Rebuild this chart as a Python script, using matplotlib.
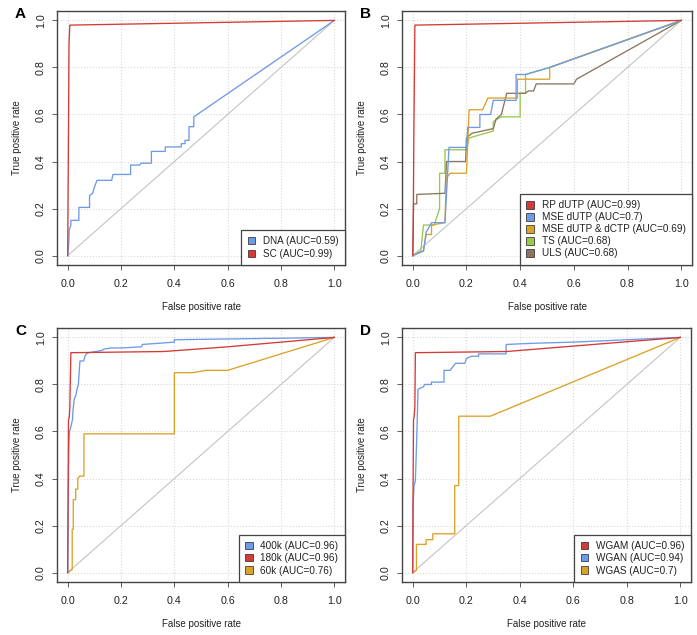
import matplotlib.pyplot as plt
from matplotlib.patches import Patch

plt.rcParams['font.family'] = ['Liberation Sans', 'DejaVu Sans']

RED = '#d43a36'
BLUE = '#6d9be6'
ORANGE = '#dba228'
GREEN = '#98c84c'
BROWN = '#8c7560'

# Panel A
dna_x = [0, 0.004, 0.006, 0.012, 0.012, 0.042, 0.042, 0.082, 0.082, 0.094, 0.1, 0.11, 0.165,
         0.17, 0.236, 0.236, 0.27, 0.275, 0.314, 0.314, 0.366, 0.366, 0.426, 0.426, 0.44, 0.44,
         0.455, 0.455, 0.473, 0.473, 1.0]
dna_y = [0, 0.05, 0.11, 0.13, 0.15, 0.15, 0.205, 0.205, 0.255, 0.265, 0.29, 0.32, 0.32,
         0.345, 0.345, 0.385, 0.385, 0.393, 0.393, 0.443, 0.443, 0.462, 0.462, 0.476, 0.476, 0.49,
         0.49, 0.548, 0.548, 0.59, 1.0]
sc_x = [0, 0.003, 0.005, 0.008, 1.0]
sc_y = [0, 0.52, 0.9, 0.98, 1.0]

# Panel B
rp_x = [0, 0.002, 0.004, 0.008, 1.0]
rp_y = [0, 0.13, 0.5, 0.98, 1.0]
mse_x = [0, 0.04, 0.05, 0.06, 0.07, 0.12, 0.13, 0.135, 0.2, 0.205, 0.25, 0.25, 0.29, 0.3,
         0.385, 0.385, 0.42, 0.51, 1.0]
mse_y = [0, 0.02, 0.1, 0.12, 0.14, 0.14, 0.35, 0.46, 0.46, 0.545, 0.545, 0.6, 0.6, 0.66,
         0.66, 0.77, 0.77, 0.8, 1.0]
msec_x = [0, 0.04, 0.05, 0.07, 0.07, 0.12, 0.125, 0.14, 0.2, 0.21, 0.26, 0.28, 0.39, 0.39,
          0.51, 0.51, 1.0]
msec_y = [0, 0.02, 0.09, 0.09, 0.13, 0.14, 0.33, 0.35, 0.35, 0.62, 0.62, 0.67, 0.67, 0.75,
          0.75, 0.8, 1.0]
ts_x = [0, 0.03, 0.04, 0.08, 0.1, 0.1, 0.12, 0.12, 0.2, 0.21, 0.24, 0.3, 0.3, 0.33, 0.4,
        0.4, 0.42, 0.42, 0.51, 1.0]
ts_y = [0, 0.02, 0.13, 0.13, 0.2, 0.35, 0.35, 0.45, 0.45, 0.5, 0.51, 0.53, 0.57, 0.59, 0.59,
        0.69, 0.69, 0.77, 0.8, 1.0]
uls_x = [0, 0.003, 0.015, 0.015, 0.12, 0.126, 0.197, 0.2, 0.22, 0.3, 0.31, 0.33, 0.35, 0.42,
         0.43, 0.45, 0.46, 0.6, 0.61, 1.0]
uls_y = [0, 0.22, 0.22, 0.26, 0.265, 0.4, 0.4, 0.5, 0.52, 0.54, 0.58, 0.6, 0.69, 0.69,
         0.7, 0.7, 0.73, 0.73, 0.75, 1.0]

# Panel C
k400_x = [0, 0.004, 0.005, 0.007, 0.012, 0.018, 0.02, 0.025, 0.03, 0.035, 0.04, 0.046, 0.06,
          0.065, 0.07, 0.079, 0.13, 0.135, 0.16, 0.2, 0.277, 0.28, 0.4, 0.4, 0.7, 1.0]
k400_y = [0, 0.5, 0.55, 0.6, 0.62, 0.65, 0.69, 0.74, 0.75, 0.78, 0.8, 0.9, 0.9,
          0.92, 0.93, 0.935, 0.945, 0.95, 0.955, 0.955, 0.96, 0.97, 0.98, 0.99, 0.995, 1.0]
k180_x = [0, 0.003, 0.006, 0.008, 0.012, 0.36, 0.6, 1.0]
k180_y = [0, 0.65, 0.66, 0.7, 0.935, 0.94, 0.96, 1.0]
k60_x = [0, 0.017, 0.017, 0.021, 0.021, 0.03, 0.03, 0.038, 0.038, 0.045, 0.061, 0.061, 0.4,
         0.4, 0.47, 0.52, 0.6, 1.0]
k60_y = [0, 0.013, 0.184, 0.184, 0.31, 0.31, 0.355, 0.355, 0.4, 0.41, 0.41, 0.59, 0.59,
         0.85, 0.85, 0.86, 0.86, 1.0]

# Panel D
wgam_x = [0, 0.001, 0.003, 0.005, 0.008, 0.01, 0.35, 1.0]
wgam_y = [0, 0.3, 0.65, 0.66, 0.7, 0.935, 0.94, 1.0]
wgan_x = [0, 0.002, 0.005, 0.01, 0.015, 0.02, 0.04, 0.045, 0.07, 0.07, 0.117, 0.117, 0.14,
          0.16, 0.195, 0.2, 0.22, 0.246, 0.246, 0.349, 0.349, 0.45, 0.6, 1.0]
wgan_y = [0, 0.3, 0.37, 0.39, 0.57, 0.78, 0.79, 0.8, 0.8, 0.81, 0.81, 0.86, 0.86,
          0.89, 0.89, 0.91, 0.92, 0.92, 0.93, 0.93, 0.97, 0.975, 0.98, 1.0]
wgas_x = [0, 0.014, 0.014, 0.05, 0.05, 0.075, 0.075, 0.157, 0.157, 0.172, 0.172, 0.29, 1.0]
wgas_y = [0, 0.01, 0.12, 0.12, 0.14, 0.14, 0.165, 0.165, 0.37, 0.37, 0.665, 0.665, 1.0]

panels = [
    ('A', [57, 11, 288, 254], [(dna_x, dna_y, BLUE), (sc_x, sc_y, RED)],
     [('DNA (AUC=0.59)', BLUE), ('SC (AUC=0.99)', RED)], 7.1, 0.25),
    ('B', [402, 11, 290, 254],
     [(ts_x, ts_y, GREEN), (uls_x, uls_y, BROWN), (msec_x, msec_y, ORANGE),
      (mse_x, mse_y, BLUE), (rp_x, rp_y, RED)],
     [('RP dUTP (AUC=0.99)', RED), ('MSE dUTP (AUC=0.7)', BLUE),
      ('MSE dUTP & dCTP (AUC=0.69)', ORANGE), ('TS (AUC=0.68)', GREEN),
      ('ULS (AUC=0.68)', BROWN)], 7.2, 0.2),
    ('C', [57, 328, 288, 254],
     [(k60_x, k60_y, ORANGE), (k400_x, k400_y, BLUE), (k180_x, k180_y, RED)],
     [('400k (AUC=0.96)', BLUE), ('180k (AUC=0.96)', RED), ('60k (AUC=0.76)', ORANGE)],
     7.2, 0.22),
    ('D', [402, 328, 289, 254],
     [(wgas_x, wgas_y, ORANGE), (wgan_x, wgan_y, BLUE), (wgam_x, wgam_y, RED)],
     [('WGAM (AUC=0.96)', RED), ('WGAN (AUC=0.94)', BLUE), ('WGAS (AUC=0.7)', ORANGE)],
     7.2, 0.22),
]

W, H = 697, 635
fig = plt.figure(figsize=(W / 100, H / 100), dpi=100)

for letter, (px, py, pw, ph), curves, leg, lfs, lsp in panels:
    ax = fig.add_axes([px / W, 1 - (py + ph) / H, pw / W, ph / H])
    ax.set_xlim(-0.04, 1.04)
    ax.set_ylim(-0.04, 1.04)
    ticks = [0, 0.2, 0.4, 0.6, 0.8, 1.0]
    ax.set_xticks(ticks)
    ax.set_yticks(ticks)
    ax.set_xticklabels(['%.1f' % t for t in ticks])
    ax.set_yticklabels(['%.1f' % t for t in ticks])
    ax.grid(True, color='#d8d8d8', linestyle=':', linewidth=0.8)
    ax.set_axisbelow(True)
    ax.plot([0, 1], [0, 1], color='#c4c4c4', linewidth=0.8)
    for cx, cy, col in curves:
        ax.plot(cx, cy, color=col, linewidth=0.95)

    for s in ax.spines.values():
        s.set_color('#444444')
        s.set_linewidth(1.0)
    ax.tick_params(direction='out', length=3.6, width=0.6, color='#444444',
                   labelsize=7.7, labelcolor='#222222')
    ax.tick_params(axis='x', pad=6.5)
    ax.tick_params(axis='y', pad=4.5, labelrotation=90)
    for lab in ax.get_yticklabels():
        lab.set_va('center')
    ax.set_xlabel('False positive rate', fontsize=7, labelpad=9.5, color='#222222')
    ax.set_ylabel('True positive rate', fontsize=7, labelpad=10, color='#222222')

    handles = [Patch(facecolor=c, edgecolor='#222222', linewidth=0.5, label=t) for t, c in leg]
    lg = ax.legend(handles=handles, loc='lower right', fontsize=lfs, frameon=True,
                   fancybox=False, framealpha=1, borderaxespad=0, borderpad=0.65,
                   handlelength=0.75, handleheight=0.75, handletextpad=0.8,
                   labelspacing=lsp)
    lg.get_frame().set_edgecolor('#444444')
    lg.get_frame().set_linewidth(0.9)
    for t in lg.get_texts():
        t.set_color('#222222')

    fig.text((px - 42) / W, 1 - (py + 3) / H, letter, fontsize=11, fontweight='bold',
             ha='left', va='center')

fig.savefig('out.png', dpi=100)
